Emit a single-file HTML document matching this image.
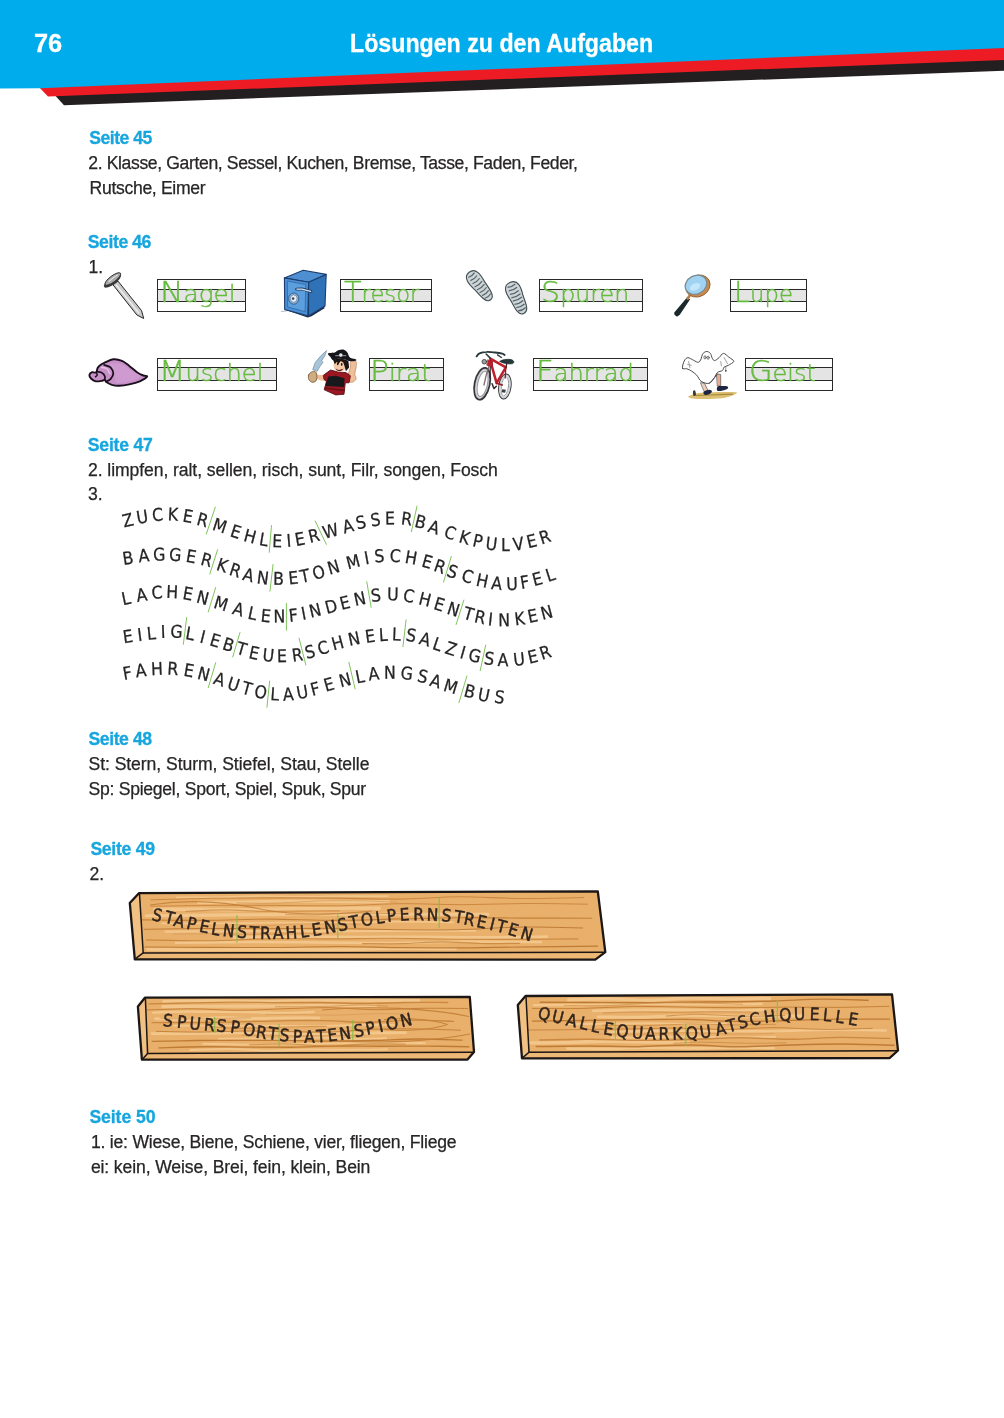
<!DOCTYPE html>
<html lang="de">
<head>
<meta charset="utf-8">
<title>Lösungen zu den Aufgaben</title>
<style>
html,body{margin:0;padding:0;background:#fff}
body{width:1004px;height:1418px;position:relative;overflow:hidden;font-family:"Liberation Sans",sans-serif;color:#272526}
main{position:absolute;left:0;top:0;width:1004px;height:1418px;will-change:transform}
.abs{position:absolute;display:block;overflow:visible}
.t,.h{position:absolute;margin:0;font-size:17.6px;line-height:20px;white-space:nowrap;font-weight:400;-webkit-text-stroke:.25px #272526}
.h{font-weight:700;color:#17a6de;-webkit-text-stroke:.3px #17a6de}
.pg,.ttl{position:absolute;margin:0;color:#fff;-webkit-text-stroke:.3px #fff;font-weight:700;font-size:25.6px;line-height:30px;white-space:nowrap;transform-origin:0 50%}
.pg{left:34.3px;top:28px;transform:scaleX(.99)}
.ttl{left:350.4px;top:28px;transform:scaleX(.906)}
.wb{position:absolute;box-sizing:border-box;height:33px;border:1px solid #2a2829;background:linear-gradient(#fff 0,#fff 9px,#2a2829 9px,#2a2829 10px,#e4e4e4 10px,#e4e4e4 21px,#2a2829 21px,#2a2829 22px,#fff 22px)}
.wb.r2{background:linear-gradient(#fff 0,#fff 8px,#2a2829 8px,#2a2829 9px,#e4e4e4 9px,#e4e4e4 21px,#2a2829 21px,#2a2829 22px,#fff 22px)}
.wb span{position:absolute;left:5px;top:-7.6px;font-family:"DejaVu Sans Light","DejaVu Sans","Liberation Sans",sans-serif;font-weight:200;font-size:23px;line-height:40px;color:#66bb40;-webkit-text-stroke:.4px #66bb40;white-space:nowrap;transform-origin:0 50%}
.wb span::first-letter{font-size:29.2px}
.wave text{font-family:"DejaVu Sans Condensed","DejaVu Sans","Liberation Sans",sans-serif;font-stretch:condensed;font-size:17.6px;fill:#262425;stroke:#262425;stroke-width:.25px}
.wave line{stroke:#7fc55c;stroke-width:1}
.plk text{font-family:"DejaVu Sans Condensed","DejaVu Sans","Liberation Sans",sans-serif;font-stretch:condensed;font-size:17.2px;fill:#31251e;stroke:#31251e;stroke-width:.45px}
</style>
</head>
<body>
<main>
<svg class="abs" style="left:0;top:0" width="1004" height="120" viewBox="0 0 1004 120" aria-hidden="true">
<polygon points="52,92 1004,55 1004,70.8 64,105.2" fill="#231f20"/>
<polygon points="36,84 1004,44 1004,59.9 48,96.6" fill="#ed1c24"/>
<polygon points="0,0 1004,0 1004,47.9 40.5,88.3 0,88.6" fill="#00acec"/>
</svg>
<div class="pg">76</div>
<h1 class="ttl">Lösungen zu den Aufgaben</h1>
<h2 class="h" style="left:89.3px;top:128.0px;letter-spacing:-0.487px">Seite 45</h2>
<p class="t" style="left:88.3px;top:153.0px;letter-spacing:-0.377px">2. Klasse, Garten, Sessel, Kuchen, Bremse, Tasse, Faden, Feder,</p>
<p class="t" style="left:89.6px;top:178.0px;letter-spacing:-0.328px">Rutsche, Eimer</p>
<h2 class="h" style="left:87.8px;top:232.0px;letter-spacing:-0.416px">Seite 46</h2>
<p class="t" style="left:88.5px;top:257.0px;letter-spacing:0.000px">1.</p>
<svg class="abs" style="left:80px;top:262px" width="670" height="146" viewBox="80 262 670 146" aria-hidden="true">
<g id="nagel">
<path d="M112.9 284.7L118.0 281.1L141.6 310.7L143.7 318.5L136.8 314.9Z" fill="#c9c9c9" stroke="#262626" stroke-width="1" stroke-linejoin="round"/>
<path d="M115.9 284.7L139.2 313.4" stroke="#f2f2f2" stroke-width="1.3" fill="none"/>
<ellipse cx="112.5" cy="280.8" rx="10.4" ry="3.7" transform="rotate(-37 112.5 280.8)" fill="#3a3a3a"/>
<ellipse cx="112.8" cy="279.0" rx="9.6" ry="3.1" transform="rotate(-37 112.8 279.0)" fill="#a9a9a9" stroke="#2a2a2a" stroke-width=".9"/>
<path d="M108.7 281.7C109.4 281.1 111.4 279.3 112.9 278.1C114.4 277.0 116.9 275.4 117.7 274.9" stroke="#e6e6e6" stroke-width="1.1" fill="none"/>
</g>
<g id="tresor" stroke-linejoin="round">
<path d="M279.0 311.4L288.6 311.1L307.7 317.4L311.5 316.2L324.9 307.9L323.0 306.0Z" fill="#1b2a45"/>
<path d="M284.4 277.9L303.2 270.3L326.2 274.4L308.6 282.3Z" fill="#4d8fd0" stroke="#1b3f70" stroke-width="1.1"/>
<path d="M308.6 282.3L326.2 274.4L325.0 306.0L308.5 315.9Z" fill="#2f72b7" stroke="#1b3f70" stroke-width="1.1"/>
<path d="M284.4 277.9L308.6 282.3L307.8 315.9L284.7 309.5Z" fill="#4a8ed3" stroke="#1b3f70" stroke-width="1.1"/>
<path d="M287.3 281.1L305.8 284.6L305.1 311.7L287.6 306.9Z" fill="#5b9fdf" stroke="#2c5f9f" stroke-width=".7"/>
<ellipse cx="293.7" cy="298.6" rx="5.1" ry="5.6" fill="#8fb0d0" stroke="#2a4f80" stroke-width=".8"/>
<ellipse cx="293.7" cy="298.6" rx="3.3" ry="3.7" fill="#e9eef4" stroke="#5a7595" stroke-width=".6"/>
<circle cx="293.1" cy="298.6" r="1.3" fill="#3a4a60"/>
<path d="M296.5 289.1L302.0 288.8L310.9 291.4" stroke="#1f3d66" stroke-width="2.8" stroke-linecap="round" fill="none"/>
<path d="M296.9 289.1L302.0 289.1L310.6 291.4" stroke="#dbe5f0" stroke-width="1.3" stroke-linecap="round" fill="none"/>
</g>
<g id="spuren"><g transform="translate(479.9 286.0) rotate(52)">
<path d="M-17.5 0C-17.5 -8.4 -7.9 -7.6 0 -6.3C9.6 -5.7 17.5 -5.4 17.5 0C17.5 5.4 9.6 5.7 0 6.3C-7.9 7.6 -17.5 8.4 -17.5 0Z" fill="#cdd4d7" stroke="#414e52" stroke-width="1.1"/>
<path d="M-13.9 -4.0Q-12.4 0 -13.9 4.0" stroke="#566468" stroke-width="1.2" fill="none"/>
<path d="M-10.1 -4.2Q-8.6 0 -10.1 4.2" stroke="#566468" stroke-width="1.2" fill="none"/>
<path d="M-6.3 -4.5Q-4.8 0 -6.3 4.5" stroke="#566468" stroke-width="1.2" fill="none"/>
<path d="M-2.5 -4.8Q-1.0 0 -2.5 4.8" stroke="#566468" stroke-width="1.2" fill="none"/>
<path d="M1.3 -4.8Q2.8 0 1.3 4.8" stroke="#566468" stroke-width="1.2" fill="none"/>
<path d="M5.1 -4.5Q6.6 0 5.1 4.5" stroke="#566468" stroke-width="1.2" fill="none"/>
<path d="M8.9 -4.2Q10.4 0 8.9 4.2" stroke="#566468" stroke-width="1.2" fill="none"/>
<path d="M12.7 -4.0Q14.2 0 12.7 4.0" stroke="#566468" stroke-width="1.2" fill="none"/>
</g><g transform="translate(516.9 298.0) rotate(66)">
<path d="M-17.0 0C-17.0 -8.9 -7.7 -8.1 0 -6.6C9.4 -6.0 17.0 -5.8 17.0 0C17.0 5.8 9.4 6.0 0 6.6C-7.7 8.1 -17.0 8.9 -17.0 0Z" fill="#cdd4d7" stroke="#414e52" stroke-width="1.1"/>
<path d="M-13.5 -4.2Q-12.0 0 -13.5 4.2" stroke="#566468" stroke-width="1.2" fill="none"/>
<path d="M-9.8 -4.5Q-8.3 0 -9.8 4.5" stroke="#566468" stroke-width="1.2" fill="none"/>
<path d="M-6.1 -4.8Q-4.6 0 -6.1 4.8" stroke="#566468" stroke-width="1.2" fill="none"/>
<path d="M-2.4 -5.0Q-0.9 0 -2.4 5.0" stroke="#566468" stroke-width="1.2" fill="none"/>
<path d="M1.2 -5.0Q2.7 0 1.2 5.0" stroke="#566468" stroke-width="1.2" fill="none"/>
<path d="M4.9 -4.8Q6.4 0 4.9 4.8" stroke="#566468" stroke-width="1.2" fill="none"/>
<path d="M8.6 -4.5Q10.1 0 8.6 4.5" stroke="#566468" stroke-width="1.2" fill="none"/>
<path d="M12.3 -4.2Q13.8 0 12.3 4.2" stroke="#566468" stroke-width="1.2" fill="none"/>
</g></g>
<g id="lupe">
<path d="M687.4 297.9L689.3 299.4L679.1 314.6L677.0 315.9L675.1 314.6L674.8 312.8Z" fill="#1b282c" stroke="#1b282c" stroke-width="1.2" stroke-linejoin="round"/>
<path d="M689.7 295.5L687.0 299.4" stroke="#b9793f" stroke-width="2.6" fill="none"/>
<ellipse cx="697.4" cy="286.4" rx="12.6" ry="10.6" transform="rotate(-28 696.9 285.2)" fill="#c98a4c" stroke="#8b5a2b" stroke-width=".8"/>
<ellipse cx="696.3" cy="284.4" rx="11.2" ry="9.2" transform="rotate(-28 696.9 285.2)" fill="#9fd3f1" stroke="#7c8a8e" stroke-width="1.2"/>
<ellipse cx="694.5" cy="285.8" rx="5.5" ry="3.4" transform="rotate(-28 696.9 285.2)" fill="#c4e6fa"/>
</g>
<g id="muschel" stroke-linejoin="round" stroke-linecap="round">
<path d="M104.2 362.8C106.4 361.9 110.3 359.6 113.3 359.3C116.3 359.0 119.3 359.8 122.0 360.9C124.7 362.0 126.8 364.0 129.3 365.9C131.8 367.8 134.7 370.6 137.0 372.2C139.3 373.8 141.6 374.8 143.3 375.5C145.0 376.2 147.7 375.6 147.1 376.5C146.5 377.5 142.8 379.9 139.8 381.3C136.8 382.6 132.8 383.6 129.3 384.4C125.8 385.2 121.8 385.7 118.9 385.8C116.0 385.9 114.0 385.5 111.9 384.9C109.8 384.2 107.5 382.8 106.3 382.0C105.2 381.1 105.7 380.0 104.9 379.9C104.1 379.7 102.9 380.7 101.4 380.9C99.9 381.1 97.6 381.7 95.9 381.3C94.1 380.9 92.0 379.5 91.0 378.5C89.9 377.4 89.3 376.0 89.4 375.0C89.6 374.0 90.5 372.8 91.7 372.3C92.8 371.9 95.2 373.1 96.2 372.3C97.2 371.6 96.9 369.3 97.6 368.0C98.3 366.8 99.3 365.7 100.4 364.9C101.5 364.0 102.1 363.7 104.2 362.8Z" fill="#c791c8" stroke="#1c0f1d" stroke-width="1.9"/>
<path d="M107.0 365.2C108.1 363.5 116.4 363.0 120.3 363.8C124.1 364.6 126.8 368.0 130.0 370.1C133.3 372.2 139.9 374.5 139.8 376.4C139.7 378.2 133.2 380.2 129.3 381.3C125.5 382.3 119.3 383.8 116.8 382.7C114.2 381.5 115.6 377.2 114.0 374.3C112.4 371.4 106.0 367.0 107.0 365.2Z" fill="#cf9bd0" opacity=".9"/>
<path d="M104.2 364.9C105.3 365.3 109.0 365.9 110.5 367.3C112.0 368.8 113.3 371.6 113.3 373.6C113.3 375.6 111.7 377.8 110.5 379.2C109.3 380.5 107.0 381.2 106.3 381.6" fill="none" stroke="#1c0f1d" stroke-width="1.8"/>
<path d="M97.6 371.8C98.4 372.0 100.9 372.1 102.1 372.9C103.4 373.6 104.5 375.2 104.9 376.4C105.3 377.5 104.6 379.3 104.6 379.9" fill="none" stroke="#1c0f1d" stroke-width="1.7"/>
<path d="M96.2 372.5C96.4 373.0 97.4 374.3 97.2 375.0C97.1 375.7 95.8 376.4 95.5 376.7" fill="none" stroke="#1c0f1d" stroke-width="1.5"/>
<path d="M101.4 367.3C102.4 367.5 105.6 367.7 107.0 368.7C108.4 369.8 109.3 372.8 109.8 373.6" fill="none" stroke="#e4c2e4" stroke-width="1.4"/>
</g>
<g id="pirat" stroke-linejoin="round" stroke-linecap="round">
<path d="M326.3 350.8L320.4 356.3L315.3 362.4L312.7 369.7L317.2 371.3L319.8 366.5L323.1 362.3L321.5 361.0L324.5 356.3Z" fill="#a8c4d8" stroke="#6d8aa0" stroke-width=".7"/>
<path d="M325.5 375.1L319.1 375.1L316.3 374.2L315.9 378.3L319.8 380.2L325.5 380.9Z" fill="#f0bf9a"/>
<path d="M308.6 375.1C309.0 373.9 310.3 372.5 311.5 372.0C312.6 371.4 314.7 371.2 315.6 372.0C316.5 372.7 316.8 374.9 316.9 376.4C316.9 377.9 316.7 379.9 315.9 380.9C315.1 381.8 313.3 382.4 312.1 382.2C310.9 381.9 309.5 380.8 308.9 379.6C308.3 378.4 308.2 376.4 308.6 375.1Z" fill="#cfad80" stroke="#7a5a3a" stroke-width=".9"/>
<path d="M348.4 373.9C348.7 371.6 350.0 369.4 350.4 367.5C350.7 365.6 349.9 363.6 350.4 362.4C350.8 361.2 351.9 360.3 352.9 360.2C353.9 360.1 355.6 360.5 356.1 361.8C356.6 363.0 356.3 365.5 356.1 367.5C355.9 369.5 354.8 372.0 354.8 373.9C354.8 375.8 356.5 377.6 356.1 379.0C355.7 380.3 353.4 381.8 352.3 382.2C351.1 382.5 349.7 382.3 349.1 380.9C348.4 379.5 348.2 376.1 348.4 373.9Z" fill="#f0bf9a" stroke="#b9835e" stroke-width=".7"/>
<path d="M323.6 375.1L330.6 370.0L338.2 372.0L345.9 372.6L350.4 375.8L349.1 382.8L345.3 382.8L344.0 394.3L335.7 394.9L324.2 389.8L326.4 381.5L324.2 379.6Z" fill="#9b1722" stroke="#4a0a10" stroke-width=".8"/>
<path d="M328.4 376.4L335.7 375.8L344.6 378.3L344.0 386.9L325.5 386.0L326.8 380.9Z" fill="#17191d"/>
<path d="M325.2 388.2L344.0 390.4" stroke="#6d0f17" stroke-width="1.6" fill="none"/>
<ellipse cx="339.8" cy="365.6" rx="6.3" ry="6.2" fill="#f4cba8"/>
<path d="M335.7 368.4C335.9 368.3 337.6 370.0 338.9 370.0C340.2 370.1 343.0 368.6 343.3 368.8C343.7 368.9 341.7 370.7 340.8 371.0C339.8 371.3 338.5 371.1 337.6 370.7C336.8 370.3 335.5 368.6 335.7 368.4Z" fill="#5a1d1d"/>
<ellipse cx="337.7" cy="364.0" rx=".8" ry="1.3" fill="#1d1512"/>
<ellipse cx="341.7" cy="364.4" rx=".8" ry="1.3" fill="#1d1512"/>
<path d="M333.1 359.8L338.2 358.6L344.6 359.2L348.4 361.1L349.1 367.5L345.9 371.3L344.6 366.2L343.3 362.4L340.8 361.1L338.2 364.3L337.0 361.8L334.7 364.3Z" fill="#1d1512"/>
<path d="M328.0 353.5C328.7 352.7 333.0 353.0 334.7 352.5C336.4 352.0 336.8 350.8 338.2 350.3C339.7 349.8 341.9 349.3 343.3 349.6C344.8 350.0 346.0 350.9 347.2 352.2C348.3 353.5 348.5 356.4 350.0 357.6C351.5 358.8 355.3 358.9 356.1 359.5C356.9 360.1 356.0 360.9 354.8 361.1C353.6 361.4 350.8 361.4 349.1 361.1C347.4 360.8 346.4 359.6 344.6 359.2C342.8 358.8 340.2 358.5 338.2 358.7C336.3 358.9 334.4 360.4 333.1 360.2C331.9 359.9 331.4 358.4 330.6 357.3C329.7 356.2 327.4 354.3 328.0 353.5Z" fill="#15161b"/>
<circle cx="340.8" cy="355.1" r="1.8" fill="#e9e9ee"/>
<path d="M335.7 355.7L345.9 355.7" stroke="#cfd0d8" stroke-width=".7" fill="none"/>
</g>
<g id="fahrrad" fill="none" stroke-linecap="round" stroke-linejoin="round">
<ellipse cx="504.9" cy="386.5" rx="5.9" ry="12.4" transform="rotate(8 504.9 386.5)" stroke="#34343a" stroke-width="1.4"/>
<ellipse cx="504.9" cy="386.5" rx="3.6" ry="9.6" transform="rotate(8 504.9 386.5)" stroke="#8f9498" stroke-width=".9"/>
<path d="M502.3 389.2L505.8 389.8L505.2 392.8L501.7 392.2Z" fill="#3a3d42" stroke="none"/>
<ellipse cx="482.2" cy="383.8" rx="6.6" ry="15.2" transform="rotate(12 482.2 383.8)" stroke="#c3c6c9" stroke-width="2.2"/>
<ellipse cx="504.9" cy="386.5" rx="4.9" ry="11.2" transform="rotate(8 504.9 386.5)" stroke="#cfd1d4" stroke-width="1.6"/>
<ellipse cx="482.2" cy="383.8" rx="7.6" ry="16.2" transform="rotate(12 482.2 383.8)" stroke="#34343a" stroke-width="1.7"/>
<ellipse cx="482.6" cy="383.8" rx="5" ry="13" transform="rotate(12 482.2 383.8)" stroke="#9a9ea3" stroke-width="1.2"/>
<path d="M489.1 365.9L486.1 375.5L484.0 385.0" stroke="#8a6a78" stroke-width="1.3"/>
<path d="M490.3 367.1L490.0 377.9" stroke="#2c2c30" stroke-width="1.2"/>
<path d="M490.3 358.7L505.8 367.4L496.6 383.2L492.1 367.1L490.3 358.7Z" stroke="#bd1f2b" stroke-width="2.5"/>
<path d="M487.9 359.9L492.7 361.7L492.1 367.1L487.0 365.3Z" fill="#bd1f2b" stroke="#8d1520" stroke-width=".6"/>
<path d="M496.6 383.2L502.3 385.0" stroke="#9a1a24" stroke-width="1.6"/>
<path d="M505.8 367.4L505.2 377.9" stroke="#7d2730" stroke-width="1.3"/>
<path d="M492.1 383.8L493.9 388.6L496.3 386.2" stroke="#3b2a2e" stroke-width="1.5"/>
<circle cx="484.3" cy="361.7" r="2.3" fill="#9aa0a0" stroke="#3a3a3a" stroke-width=".8"/>
<path d="M476.6 356.3C477.1 355.8 477.8 354.1 479.5 353.4C481.2 352.6 484.1 352.0 486.7 351.9C489.3 351.7 492.5 352.2 495.1 352.5C497.7 352.8 500.7 353.3 502.3 353.7C503.8 354.1 504.2 354.7 504.6 354.9" stroke="#27363a" stroke-width="1.9"/>
<path d="M486.1 354.0L490.3 358.1" stroke="#27363a" stroke-width="1.5"/>
<path d="M497.5 354.9L501.4 357.5" stroke="#27363a" stroke-width="1.3"/>
<path d="M499.9 361.4C499.7 360.8 502.8 359.9 504.6 359.6C506.5 359.3 509.7 359.2 511.2 359.6C512.8 360.0 513.8 361.3 513.9 362.0C514.0 362.7 513.2 363.6 511.8 363.8C510.5 364.1 507.8 363.9 505.8 363.5C503.8 363.1 500.1 362.1 499.9 361.4Z" fill="#26383c" stroke="#1a2326" stroke-width=".6"/>
<path d="M506.7 363.5L506.1 367.1" stroke="#3a2a2e" stroke-width="1.4"/>
</g>
<g id="geist" stroke-linejoin="round" stroke-linecap="round">
<path d="M690.3 395.5C692.3 394.8 693.9 393.4 701.1 392.8C708.3 392.2 728.0 391.9 733.6 392.1C739.2 392.4 736.7 393.5 734.6 394.5C732.6 395.5 727.8 397.5 721.4 398.2C715.0 399.0 701.8 399.1 696.4 398.9C690.9 398.7 689.6 397.8 688.6 397.2C687.6 396.7 688.2 396.3 690.3 395.5Z" fill="#dcbf72"/>
<path d="M696.4 395.5L732.3 394.2" stroke="#a88a3c" stroke-width="1.2" fill="none"/>
<path d="M693.0 391.5C693.2 390.6 694.5 389.9 695.0 390.4C695.5 391.0 696.2 393.9 696.0 394.8C695.8 395.7 694.2 396.4 693.6 395.9C693.1 395.3 692.7 392.4 693.0 391.5Z" fill="#3b3b3b"/>
<path d="M700.8 382.7L704.5 383.3L707.9 390.4L704.5 391.5Z" fill="#f0cdb8" stroke="#555" stroke-width=".7"/>
<path d="M716.7 373.8L720.7 374.5L720.7 386.0L717.7 386.0Z" fill="#e9ab93" stroke="#555" stroke-width=".7"/>
<path d="M703.8 391.8C704.6 390.9 707.9 389.8 709.2 389.8C710.6 389.7 711.9 390.7 711.9 391.5C711.9 392.2 710.5 393.6 709.2 394.2C708.0 394.7 705.4 395.2 704.5 394.8C703.6 394.5 703.0 392.6 703.8 391.8Z" fill="#1e2542"/>
<path d="M717.4 386.7C718.0 385.9 719.7 386.1 721.4 386.0C723.1 386.0 726.5 385.9 727.5 386.4C728.5 386.8 728.3 388.1 727.5 388.7C726.7 389.4 724.5 390.1 722.8 390.4C721.1 390.8 718.3 391.4 717.4 390.8C716.5 390.2 716.7 387.5 717.4 386.7Z" fill="#1e2542"/>
<path d="M682.5 368.4C682.0 367.1 683.3 362.8 684.2 361.0C685.1 359.2 686.3 357.8 687.9 357.7C689.5 357.6 691.9 359.5 693.6 360.3C695.4 361.1 697.1 362.6 698.4 362.3C699.6 362.1 700.4 360.3 701.1 358.9C701.8 357.6 701.6 355.4 702.5 354.2C703.3 353.0 704.9 351.7 706.2 351.5C707.5 351.3 709.2 352.0 710.2 353.2C711.3 354.3 711.5 357.0 712.3 358.3C713.0 359.5 713.5 360.7 714.7 360.6C715.8 360.5 717.6 358.8 719.1 357.6C720.5 356.4 721.8 353.4 723.5 353.4C725.1 353.3 727.2 355.9 728.9 357.2C730.6 358.6 733.9 360.0 733.8 361.3C733.6 362.7 729.8 364.4 728.2 365.4C726.6 366.3 725.1 366.2 724.1 367.1C723.2 367.9 723.6 369.6 722.4 370.5C721.3 371.4 718.7 371.4 717.4 372.5C716.1 373.6 716.0 375.4 714.7 377.2C713.3 379.0 711.5 382.7 709.2 383.3C707.0 384.0 703.2 382.7 701.1 381.3C699.0 379.9 698.3 376.9 696.7 375.2C695.1 373.5 693.3 372.2 691.6 371.1C690.0 370.1 688.4 369.2 686.9 368.8C685.3 368.3 682.9 369.7 682.5 368.4Z" fill="#fefefe" stroke="#4a4a4f" stroke-width="1"/>
<ellipse cx="705.0" cy="357.4" rx="1.1" ry="1.6" fill="none" stroke="#3e3e44" stroke-width=".7"/>
<ellipse cx="708.1" cy="357.7" rx="1.1" ry="1.6" fill="none" stroke="#3e3e44" stroke-width=".7"/>
<path d="M688.6 361.6L689.9 367.7" stroke="#8a8a90" stroke-width=".8" fill="none"/>
<path d="M687.6 364.4L691.3 365.4" stroke="#8a8a90" stroke-width=".8" fill="none"/>
<path d="M724.1 357.6L727.5 363.7" stroke="#8a8a90" stroke-width=".8" fill="none"/>
<path d="M720.7 361.6L721.4 365.7" stroke="#8a8a90" stroke-width=".8" fill="none"/>
<path d="M709.2 383.3L712.6 379.9L717.4 374.5" stroke="#4a4a4f" stroke-width=".9" fill="none"/>
<circle cx="725.8" cy="370.8" r=".9" fill="#333"/>
<path d="M725.8 367.1L725.8 370.5" stroke="#555" stroke-width=".6" fill="none"/>
</g>
</svg>
<div class="wb" style="left:157px;top:279px;width:89px"><span style="left:1.6px;transform:scaleX(1.077)">Nagel</span></div>
<div class="wb" style="left:340px;top:279px;width:92px"><span style="left:2.7px;transform:scaleX(0.986)">Tresor</span></div>
<div class="wb" style="left:539px;top:279px;width:104px"><span style="left:1.1px;transform:scaleX(1.033)">Spuren</span></div>
<div class="wb" style="left:730px;top:279px;width:77px"><span style="left:3.2px;transform:scaleX(0.988)">Lupe</span></div>
<div class="wb r2" style="left:157px;top:358px;width:120px"><span style="left:0.8px;transform:scaleX(1.049)">Muschel</span></div>
<div class="wb r2" style="left:369px;top:358px;width:75px"><span style="left:0.0px;transform:scaleX(1.079)">Pirat</span></div>
<div class="wb r2" style="left:533px;top:358px;width:115px"><span style="left:2.0px;transform:scaleX(1.052)">Fahrrad</span></div>
<div class="wb r2" style="left:745px;top:358px;width:88px"><span style="left:2.7px;transform:scaleX(1.043)">Geist</span></div>
<h2 class="h" style="left:87.8px;top:435.0px;letter-spacing:-0.201px">Seite 47</h2>
<p class="t" style="left:88.0px;top:460.0px;letter-spacing:-0.084px">2. limpfen, ralt, sellen, risch, sunt, Filr, songen, Fosch</p>
<p class="t" style="left:88.0px;top:484.0px;letter-spacing:0.000px">3.</p>
<svg class="abs wave" style="left:110px;top:500px" width="460" height="215" viewBox="110 500 460 215">
<line x1="215.4" y1="506.9" x2="206.2" y2="534.4"/>
<line x1="271.5" y1="525.2" x2="269.2" y2="552.7"/>
<line x1="315.0" y1="520.6" x2="326.5" y2="544.7"/>
<line x1="417.1" y1="505.7" x2="411.3" y2="532.1"/>
<line x1="217.7" y1="549.3" x2="209.7" y2="574.5"/>
<line x1="273.1" y1="564.1" x2="269.9" y2="591.6"/>
<line x1="451.4" y1="556.1" x2="443.4" y2="582.5"/>
<line x1="215.8" y1="587.1" x2="208.1" y2="612.3"/>
<line x1="286.4" y1="603.1" x2="286.4" y2="630.6"/>
<line x1="366.7" y1="581.3" x2="371.2" y2="607.7"/>
<line x1="464.0" y1="599.7" x2="456.0" y2="624.9"/>
<line x1="186.7" y1="617.2" x2="183.3" y2="644.7"/>
<line x1="240.1" y1="632.1" x2="232.6" y2="657.3"/>
<line x1="299.0" y1="637.8" x2="305.9" y2="665.3"/>
<line x1="406.1" y1="619.5" x2="402.9" y2="647.0"/>
<line x1="485.8" y1="644.7" x2="480.1" y2="671.0"/>
<line x1="215.8" y1="662.3" x2="208.1" y2="688.2"/>
<line x1="269.7" y1="680.6" x2="266.9" y2="707.7"/>
<line x1="348.8" y1="661.9" x2="355.2" y2="689.3"/>
<line x1="467.0" y1="675.6" x2="458.8" y2="703.1"/>
<text x="124.1 137.4 152.6 167.5 181.9 195.8 211.5 229.3 242.8 258.6 272.0 286.9 295.9 310.0 324.6 344.3 357.3 371.2 385.1 400.4 413.7 427.1 443.1 457.9 471.8 485.0 500.9 513.8 528.2 541.6" y="527.6 524.1 521.2 520.3 521.4 524.6 529.6 535.9 540.8 545.1 547.1 547.0 545.9 542.9 538.9 533.6 529.5 526.4 524.4 524.2 526.6 531.4 537.0 541.9 546.0 549.3 551.2 550.8 548.2 544.4" rotate="-13.1 -9.3 -4.0 2.9 9.8 15.1 17.8 17.7 14.8 9.2 2.2 -4.6 -10.0 -13.4 -14.9 -14.6 -12.2 -7.4 -0.6 7.3 14.2 17.9 18.0 15.9 12.4 7.0 -0.0 -7.5 -13.4 -17.5">ZUCKERMEHLEIERWASSERBACKPULVER</text>
<text x="123.5 139.1 153.3 168.7 185.3 199.7 215.4 228.3 241.8 256.3 272.9 289.0 301.2 314.2 329.5 347.9 365.6 374.8 389.5 404.3 420.8 432.7 445.8 460.4 475.2 490.8 506.6 521.3 534.1 548.1" y="565.1 562.3 560.8 560.4 561.7 564.6 569.4 574.6 579.7 583.3 584.7 584.5 583.0 580.0 574.8 569.4 564.5 562.6 561.7 562.8 566.2 570.5 575.8 580.8 585.5 589.1 590.2 588.9 586.2 582.0" rotate="-8.8 -5.6 -1.4 3.9 9.6 14.8 18.1 17.9 13.8 7.3 0.5 -5.8 -11.3 -15.1 -16.1 -14.5 -10.4 -4.3 2.9 9.9 15.8 19.1 19.0 16.4 11.8 5.3 -2.3 -9.4 -14.4 -17.6">BAGGERKRANBETONMISCHERSCHAUFEL</text>
<text x="123.0 137.3 152.0 166.1 181.9 195.4 212.7 231.4 246.9 260.2 273.6 289.5 302.5 310.7 326.8 341.6 355.3 371.5 387.1 402.6 417.8 432.8 446.1 462.2 473.4 487.4 498.3 515.3 529.1 542.4" y="605.2 601.9 599.0 597.7 598.9 602.3 607.6 613.8 618.6 621.5 622.5 622.0 620.0 617.8 614.1 610.1 606.0 601.9 600.3 601.3 604.1 608.7 613.4 618.4 622.0 625.2 626.2 625.5 623.1 619.9" rotate="-11.8 -9.1 -4.4 2.5 9.7 14.8 16.8 15.7 11.9 5.9 -0.6 -6.4 -10.8 -13.3 -14.3 -14.2 -11.9 -6.4 1.1 8.4 13.9 17.0 17.5 15.9 12.1 6.3 -0.6 -7.0 -11.7 -14.8">LACHENMALENFINDENSUCHENTRINKEN</text>
<text x="123.8 138.3 147.5 161.1 169.9 184.8 199.0 208.8 221.6 235.3 248.1 262.1 276.9 292.8 306.4 319.5 333.4 349.6 366.0 379.2 391.7 405.3 418.2 431.5 443.9 458.9 467.4 483.4 497.5 513.9 529.2 542.1" y="643.2 641.2 639.9 638.0 637.3 638.9 642.2 645.0 648.9 653.6 657.9 660.8 662.2 661.7 659.1 655.3 650.5 646.0 643.0 641.2 640.2 640.6 643.7 648.7 652.9 657.7 660.5 664.0 666.0 666.0 663.7 660.0" rotate="-7.9 -7.5 -5.9 -2.1 3.8 9.8 14.1 16.5 17.2 15.9 12.1 6.1 -0.9 -7.8 -13.3 -15.8 -15.0 -11.9 -7.9 -3.3 2.5 9.6 15.7 18.3 17.9 15.7 12.2 7.3 0.9 -6.3 -12.8 -18.1">EILIGLIEBTEUERSCHNELLSALZIGSAUER</text>
<text x="123.9 136.3 151.3 167.1 183.0 196.5 212.4 226.2 240.7 253.4 270.1 283.2 297.8 312.2 325.7 340.7 356.7 368.9 384.1 399.9 416.4 428.8 442.6 462.9 477.0 493.7" y="679.9 677.3 675.2 674.6 675.7 678.6 683.6 688.6 693.3 697.1 700.1 700.8 699.3 695.9 691.7 687.4 683.4 680.6 678.7 678.7 681.2 685.4 690.4 696.0 700.0 702.6" rotate="-10.3 -7.0 -2.5 3.3 9.5 14.7 17.5 17.5 15.0 10.3 3.8 -3.7 -10.3 -14.4 -15.4 -14.0 -11.1 -6.5 -0.4 6.7 13.2 16.7 16.5 14.2 11.1 7.8">FAHRENAUTOLAUFENLANGSAMBUS</text>
</svg>
<h2 class="h" style="left:88.5px;top:729.0px;letter-spacing:-0.416px">Seite 48</h2>
<p class="t" style="left:88.5px;top:754.0px;letter-spacing:-0.068px">St: Stern, Sturm, Stiefel, Stau, Stelle</p>
<p class="t" style="left:88.5px;top:779.0px;letter-spacing:-0.273px">Sp: Spiegel, Sport, Spiel, Spuk, Spur</p>
<h2 class="h" style="left:90.4px;top:839.0px;letter-spacing:-0.273px">Seite 49</h2>
<p class="t" style="left:89.5px;top:864.0px;letter-spacing:0.000px">2.</p>
<svg class="abs plk" style="left:120px;top:880px" width="790" height="190" viewBox="120 880 790 190">
<g id="brett1">
<polygon points="129.8,903.0 138.9,893.2 597.8,891.3 605.3,952.2 595.3,959.6 134.8,959.4" fill="#e9b06b"/>
<polygon points="129.8,903.0 139.5,894.0 143.2,952.9 134.8,959.4" fill="#f1c083"/>
<polygon points="143.2,952.9 604.8,952.3 595.3,959.6 134.8,959.4" fill="#edb775"/>
<path d="M176.8 897.3C183.9 897.3 205.0 897.6 219.1 897.4C233.1 897.2 247.2 896.1 261.3 896.0C275.3 895.9 289.4 896.7 303.5 896.7C317.6 896.7 331.6 896.2 345.7 896.1C359.8 896.0 380.9 896.1 387.9 896.1" stroke="#f5cd95" stroke-width="1.7" fill="none" opacity=".8" stroke-linecap="round"/>
<path d="M198.3 902.5C204.6 902.5 223.6 902.4 236.3 902.2C249.0 902.0 261.7 901.5 274.4 901.3C287.1 901.1 299.8 901.1 312.5 901.1C325.2 901.2 337.9 901.5 350.6 901.6C363.3 901.7 382.3 901.6 388.7 901.5" stroke="#f5cd95" stroke-width="3.1" fill="none" opacity=".8" stroke-linecap="round"/>
<path d="M154.7 909.2C162.2 909.3 184.6 909.2 199.6 909.3C214.6 909.4 229.6 909.8 244.5 909.7C259.5 909.6 274.5 909.0 289.5 908.8C304.4 908.5 319.4 908.3 334.4 908.2C349.4 908.1 371.8 908.2 379.3 908.2" stroke="#f5cd95" stroke-width="3.4" fill="none" opacity=".8" stroke-linecap="round"/>
<path d="M146.2 915.8C157.6 915.7 191.8 915.3 214.5 915.1C237.3 914.9 260.1 914.6 282.9 914.5C305.6 914.3 328.4 914.2 351.2 914.1C374.0 914.1 396.7 914.2 419.5 914.2C442.3 914.3 476.4 914.3 487.8 914.3" stroke="#f5cd95" stroke-width="3.1" fill="none" opacity=".8" stroke-linecap="round"/>
<path d="M162.1 923.4C171.8 923.4 200.9 923.6 220.3 923.4C239.7 923.3 259.1 922.8 278.5 922.7C297.9 922.6 317.3 923.0 336.7 922.8C356.1 922.7 375.5 921.8 394.9 921.7C414.3 921.6 443.4 922.2 453.1 922.3" stroke="#f5cd95" stroke-width="1.7" fill="none" opacity=".8" stroke-linecap="round"/>
<path d="M165.6 931.6C175.9 931.6 206.8 931.4 227.5 931.3C248.1 931.2 268.7 930.9 289.4 930.9C310.0 930.9 330.6 931.3 351.3 931.3C371.9 931.2 392.5 930.9 413.2 930.8C433.8 930.7 464.7 930.7 475.0 930.7" stroke="#f5cd95" stroke-width="2.1" fill="none" opacity=".8" stroke-linecap="round"/>
<path d="M233.7 937.4C244.2 937.2 275.5 936.7 296.4 936.7C317.2 936.7 338.1 937.2 359.0 937.2C379.9 937.2 400.7 936.9 421.6 936.9C442.5 937.0 463.4 937.5 484.2 937.5C505.1 937.4 536.4 936.7 546.9 936.6" stroke="#f5cd95" stroke-width="2.9" fill="none" opacity=".8" stroke-linecap="round"/>
<path d="M175.8 942.8C187.9 942.7 224.4 942.0 248.8 941.9C273.1 941.8 297.5 942.2 321.8 942.4C346.2 942.5 370.5 943.0 394.9 942.9C419.2 942.7 443.6 941.7 467.9 941.5C492.2 941.4 528.8 942.0 540.9 942.1" stroke="#f5cd95" stroke-width="2.5" fill="none" opacity=".8" stroke-linecap="round"/>
<path d="M147.5 949.4C157.8 949.4 188.6 949.8 209.1 949.8C229.6 949.8 250.1 949.3 270.7 949.3C291.2 949.3 311.7 949.9 332.2 949.8C352.8 949.7 373.3 948.8 393.8 948.6C414.3 948.4 445.1 948.8 455.4 948.9" stroke="#f5cd95" stroke-width="2.9" fill="none" opacity=".8" stroke-linecap="round"/>
<path d="M150.8 899.8C161.1 899.6 192.0 898.5 212.6 898.2C233.2 897.9 253.8 898.0 274.5 897.9C295.1 897.9 315.7 897.9 336.3 898.1C356.9 898.3 377.5 899.3 398.2 899.1C418.8 898.9 439.4 896.9 460.0 896.8C480.6 896.8 501.2 898.4 521.8 898.5C542.5 898.6 573.4 897.7 583.7 897.5" stroke="#c6843c" stroke-width="1.1" fill="none" opacity=".9" stroke-linecap="round"/>
<path d="M150.9 906.3C161.3 906.2 192.5 905.5 213.3 905.4C234.0 905.2 254.8 905.3 275.6 905.4C296.4 905.4 317.2 906.2 338.0 905.9C358.8 905.6 379.6 903.9 400.4 903.7C421.1 903.5 441.9 904.7 462.7 904.7C483.5 904.6 504.3 903.6 525.1 903.5C545.9 903.4 577.1 904.1 587.5 904.2" stroke="#c6843c" stroke-width="1.0" fill="none" opacity=".9" stroke-linecap="round"/>
<path d="M142.2 919.9C152.9 920.0 185.0 920.5 206.4 920.4C227.8 920.2 249.2 919.1 270.6 919.1C292.0 919.1 313.4 920.5 334.8 920.4C356.2 920.4 377.6 919.4 399.0 918.9C420.4 918.5 441.8 917.8 463.2 917.7C484.6 917.5 506.0 918.0 527.4 918.1C548.9 918.2 581.0 918.2 591.7 918.2" stroke="#c07c34" stroke-width="1.1" fill="none" opacity=".9" stroke-linecap="round"/>
<path d="M144.2 929.3C154.7 929.2 186.0 928.6 206.9 928.5C227.7 928.4 248.6 928.7 269.5 928.7C290.4 928.7 311.3 928.2 332.1 928.3C353.0 928.5 373.9 929.5 394.8 929.7C415.6 929.9 436.5 930.2 457.4 929.7C478.3 929.3 499.2 927.4 520.0 927.1C540.9 926.8 572.2 927.8 582.7 928.0" stroke="#b97530" stroke-width="1.0" fill="none" opacity=".9" stroke-linecap="round"/>
<path d="M146.7 939.9C156.9 940.1 187.7 941.0 208.3 940.8C228.8 940.6 249.4 939.0 269.9 938.7C290.4 938.4 311.0 938.9 331.5 938.9C352.1 938.8 372.6 938.2 393.1 938.3C413.7 938.4 434.2 939.1 454.8 939.3C475.3 939.5 495.8 939.5 516.4 939.4C536.9 939.3 567.7 939.0 578.0 938.9" stroke="#c6843c" stroke-width="1.1" fill="none" opacity=".9" stroke-linecap="round"/>
<path d="M145.1 947.0C155.9 947.1 188.2 947.3 209.8 947.4C231.3 947.4 252.9 947.6 274.4 947.5C296.0 947.4 317.5 946.5 339.0 946.5C360.6 946.6 382.1 947.5 403.7 947.7C425.2 947.9 446.8 947.9 468.3 947.8C489.9 947.7 511.4 947.1 532.9 946.9C554.5 946.6 586.8 946.3 597.6 946.2" stroke="#b97530" stroke-width="1.2" fill="none" opacity=".9" stroke-linecap="round"/>
<path d="M236.9 902.9C243.6 903.0 263.6 903.5 276.9 903.2C290.2 902.9 303.6 901.3 316.9 900.9C330.2 900.5 343.5 900.6 356.9 900.7C370.2 900.9 390.2 901.9 396.9 902.1" stroke="#d19451" stroke-width="0.8" fill="none" opacity=".8" stroke-linecap="round"/>
<path d="M185.6 911.5C192.0 911.2 211.2 909.9 224.0 909.9C236.9 909.8 249.7 911.2 262.5 911.4C275.3 911.6 288.2 911.2 301.0 911.1C313.8 911.0 333.0 910.8 339.4 910.8" stroke="#cc8b44" stroke-width="1.2" fill="none" opacity=".8" stroke-linecap="round"/>
<path d="M285.4 914.6C290.5 914.6 305.9 915.1 316.1 914.9C326.4 914.6 336.6 913.3 346.9 913.1C357.1 912.8 367.4 913.1 377.6 913.3C387.8 913.5 403.2 913.9 408.3 914.1" stroke="#cc8b44" stroke-width="0.9" fill="none" opacity=".8" stroke-linecap="round"/>
<path d="M231.0 924.3C236.4 924.6 252.6 926.0 263.3 926.0C274.1 925.9 284.8 924.3 295.6 924.0C306.4 923.6 317.1 923.9 327.9 923.9C338.6 923.9 354.8 923.9 360.2 923.9" stroke="#d19451" stroke-width="0.7" fill="none" opacity=".8" stroke-linecap="round"/>
<path d="M173.8 934.0C180.3 933.9 199.6 933.7 212.5 933.8C225.3 933.9 238.2 934.5 251.1 934.4C264.0 934.4 276.9 933.9 289.8 933.7C302.6 933.6 322.0 933.6 328.4 933.5" stroke="#d19451" stroke-width="0.8" fill="none" opacity=".8" stroke-linecap="round"/>
<path d="M362.6 943.6C369.1 943.6 388.7 944.0 401.8 943.7C414.9 943.4 428.0 941.8 441.1 941.8C454.1 941.7 467.2 943.2 480.3 943.5C493.4 943.8 513.0 943.3 519.6 943.3" stroke="#c6843c" stroke-width="1.2" fill="none" opacity=".8" stroke-linecap="round"/>
<path d="M150 905C185 899.5 225 901 262 909.5C300 916 340 914.5 372 911" stroke="#c27e36" stroke-width="1.1" fill="none" opacity=".85"/>
<path d="M139.5 894.0L143.2 952.9L604.8 952.3" fill="none" stroke="#1c1715" stroke-width="1.5" stroke-linejoin="round"/>
<path d="M143.2 952.9L135.8 958.4" fill="none" stroke="#1c1715" stroke-width="1.5"/>
<polygon points="129.8,903.0 138.9,893.2 597.8,891.3 605.3,952.2 595.3,959.6 134.8,959.4" fill="none" stroke="#1c1715" stroke-width="2.3" stroke-linejoin="round"/>
<line x1="237.0" y1="914.9" x2="237.0" y2="942.8" stroke="#7cc142" stroke-width="1.1" opacity=".9"/>
<line x1="337.8" y1="913.0" x2="337.8" y2="939.0" stroke="#7cc142" stroke-width="1.1" opacity=".9"/>
<line x1="439.2" y1="897.0" x2="439.2" y2="928.0" stroke="#7cc142" stroke-width="1.1" opacity=".9"/>
<text x="151.3 163.8 172.7 185.8 198.4 210.4 222.2 236.8 249.2 260.1 273.0 286.0 300.8 312.8 325.4 338.9 350.5 362.0 376.5 387.4 400.1 413.3 426.5 441.1 453.5 463.0 475.7 488.7 495.6 506.9 519.5" y="920.0 922.6 925.4 928.5 931.5 934.2 936.0 937.6 938.5 938.9 939.1 938.9 937.8 936.2 934.1 931.4 928.7 926.5 924.0 922.0 920.7 920.3 920.4 921.0 922.2 924.2 926.7 929.5 931.1 934.2 938.1" rotate="12.2 13.7 14.0 13.2 11.6 9.4 6.9 4.6 2.6 0.7 -1.4 -3.8 -6.6 -8.9 -10.6 -11.4 -11.1 -10.1 -8.6 -6.2 -3.0 0.1 2.7 5.6 8.8 11.1 12.3 13.5 14.9 16.3 17.3">STAPELNSTRAHLENSTOLPERNSTREITEN</text>
</g>
<g id="brett2">
<polygon points="137.9,1006.5 144.9,997.7 469.8,996.9 474.0,1052.0 467.5,1059.5 141.9,1059.7" fill="#e9b06b"/>
<polygon points="137.9,1006.5 145.4,998.4 147.6,1053.4 141.9,1059.7" fill="#f1c083"/>
<polygon points="147.6,1053.4 473.6,1052.3 467.5,1059.5 141.9,1059.7" fill="#edb775"/>
<path d="M163.9 1001.6C172.4 1001.5 197.9 1000.6 214.9 1000.6C231.8 1000.6 248.8 1001.7 265.8 1001.6C282.8 1001.5 299.8 1000.3 316.7 1000.1C333.7 999.9 350.7 1000.1 367.7 1000.2C384.7 1000.2 410.1 1000.4 418.6 1000.5" stroke="#f5cd95" stroke-width="3.4" fill="none" opacity=".8" stroke-linecap="round"/>
<path d="M162.7 1006.6C169.8 1006.5 191.2 1006.4 205.4 1006.3C219.6 1006.2 233.8 1006.2 248.0 1006.1C262.2 1006.1 276.4 1006.1 290.6 1006.0C304.9 1005.8 319.1 1005.3 333.3 1005.2C347.5 1005.1 368.8 1005.6 375.9 1005.6" stroke="#f5cd95" stroke-width="3.1" fill="none" opacity=".8" stroke-linecap="round"/>
<path d="M153.2 1012.7C158.6 1012.5 174.6 1011.7 185.3 1011.6C196.0 1011.4 206.7 1011.8 217.4 1011.9C228.1 1012.0 238.8 1011.9 249.5 1012.1C260.1 1012.2 270.8 1012.9 281.5 1012.9C292.2 1012.9 308.3 1012.1 313.6 1012.0" stroke="#f5cd95" stroke-width="2.3" fill="none" opacity=".8" stroke-linecap="round"/>
<path d="M155.5 1018.7C160.9 1018.9 177.3 1019.7 188.2 1019.6C199.1 1019.4 210.0 1017.7 220.9 1017.6C231.8 1017.4 242.7 1018.5 253.6 1018.5C264.5 1018.6 275.4 1018.0 286.3 1017.9C297.2 1017.8 313.6 1018.0 319.0 1018.0" stroke="#f5cd95" stroke-width="2.8" fill="none" opacity=".8" stroke-linecap="round"/>
<path d="M174.0 1025.8C181.3 1025.8 203.3 1025.6 218.0 1025.6C232.7 1025.6 247.3 1025.7 262.0 1025.7C276.7 1025.8 291.4 1026.1 306.0 1026.1C320.7 1026.0 335.4 1025.4 350.0 1025.2C364.7 1025.1 386.7 1025.0 394.0 1024.9" stroke="#f5cd95" stroke-width="1.9" fill="none" opacity=".8" stroke-linecap="round"/>
<path d="M152.0 1033.6C160.5 1033.5 185.8 1033.5 202.7 1033.4C219.6 1033.2 236.5 1032.5 253.4 1032.6C270.3 1032.7 287.1 1033.8 304.0 1033.9C320.9 1034.0 337.8 1033.2 354.7 1033.0C371.6 1032.7 396.9 1032.7 405.4 1032.6" stroke="#f5cd95" stroke-width="2.9" fill="none" opacity=".8" stroke-linecap="round"/>
<path d="M218.7 1038.8C224.3 1038.8 241.1 1038.3 252.2 1038.4C263.4 1038.5 274.5 1039.5 285.7 1039.3C296.9 1039.2 308.0 1037.8 319.2 1037.7C330.4 1037.7 341.5 1038.8 352.7 1038.9C363.8 1038.9 380.6 1038.3 386.2 1038.2" stroke="#f5cd95" stroke-width="1.8" fill="none" opacity=".8" stroke-linecap="round"/>
<path d="M203.4 1043.8C210.8 1044.0 233.0 1044.5 247.8 1044.6C262.6 1044.7 277.4 1044.4 292.1 1044.2C306.9 1044.0 321.7 1043.6 336.5 1043.4C351.3 1043.1 366.1 1042.7 380.8 1042.6C395.6 1042.6 417.8 1043.0 425.2 1043.1" stroke="#f5cd95" stroke-width="1.9" fill="none" opacity=".8" stroke-linecap="round"/>
<path d="M190.5 1050.0C197.1 1049.8 216.8 1048.9 229.9 1049.0C243.0 1049.0 256.2 1050.4 269.3 1050.5C282.4 1050.6 295.5 1049.7 308.6 1049.6C321.8 1049.4 334.9 1049.9 348.0 1049.8C361.1 1049.8 380.8 1049.4 387.4 1049.3" stroke="#f5cd95" stroke-width="2.0" fill="none" opacity=".8" stroke-linecap="round"/>
<path d="M148.8 1003.9C155.9 1003.7 177.3 1003.2 191.5 1002.9C205.7 1002.6 220.0 1002.1 234.2 1002.1C248.4 1002.1 262.7 1002.5 276.9 1002.6C291.1 1002.6 305.4 1002.4 319.6 1002.5C333.8 1002.7 348.1 1003.5 362.3 1003.5C376.5 1003.5 390.8 1002.7 405.0 1002.5C419.2 1002.3 440.6 1002.5 447.7 1002.5" stroke="#c6843c" stroke-width="1.3" fill="none" opacity=".9" stroke-linecap="round"/>
<path d="M147.4 1009.9C155.0 1009.8 177.9 1008.8 193.1 1008.8C208.4 1008.9 223.6 1010.4 238.9 1010.3C254.1 1010.3 269.3 1009.2 284.6 1008.7C299.8 1008.3 315.1 1007.5 330.3 1007.7C345.6 1007.9 360.8 1009.6 376.1 1009.7C391.3 1009.8 406.6 1008.5 421.8 1008.3C437.1 1008.1 459.9 1008.5 467.6 1008.5" stroke="#c07c34" stroke-width="1.0" fill="none" opacity=".9" stroke-linecap="round"/>
<path d="M152.0 1022.6C159.2 1022.6 180.8 1022.7 195.1 1022.6C209.5 1022.5 223.8 1022.2 238.2 1021.9C252.6 1021.6 266.9 1021.0 281.3 1020.8C295.6 1020.6 310.0 1020.3 324.4 1020.6C338.7 1020.8 353.1 1022.4 367.4 1022.4C381.8 1022.3 396.2 1020.3 410.5 1020.1C424.9 1020.0 446.4 1021.1 453.6 1021.3" stroke="#c6843c" stroke-width="1.3" fill="none" opacity=".9" stroke-linecap="round"/>
<path d="M156.7 1031.4C163.9 1031.5 185.6 1032.2 200.1 1032.1C214.5 1032.1 229.0 1031.1 243.5 1031.0C257.9 1030.9 272.4 1031.3 286.9 1031.5C301.3 1031.7 315.8 1032.5 330.3 1032.1C344.7 1031.8 359.2 1029.7 373.7 1029.2C388.1 1028.7 402.6 1028.7 417.1 1028.9C431.5 1029.1 453.2 1030.0 460.5 1030.2" stroke="#c07c34" stroke-width="1.0" fill="none" opacity=".9" stroke-linecap="round"/>
<path d="M152.1 1041.3C159.5 1041.2 181.7 1040.7 196.4 1040.5C211.2 1040.4 225.9 1040.5 240.7 1040.4C255.5 1040.4 270.2 1040.3 285.0 1040.4C299.7 1040.5 314.5 1041.1 329.3 1041.1C344.0 1041.1 358.8 1040.8 373.6 1040.5C388.3 1040.1 403.1 1039.0 417.8 1039.0C432.6 1038.9 454.7 1040.0 462.1 1040.2" stroke="#b97530" stroke-width="1.3" fill="none" opacity=".9" stroke-linecap="round"/>
<path d="M158.9 1047.9C166.3 1047.7 188.4 1046.9 203.2 1046.7C217.9 1046.6 232.7 1047.0 247.4 1047.1C262.2 1047.1 277.0 1047.3 291.7 1047.2C306.5 1047.0 321.2 1046.3 336.0 1046.1C350.7 1045.9 365.5 1046.2 380.3 1046.2C395.0 1046.2 409.8 1046.0 424.5 1046.1C439.3 1046.2 461.4 1046.7 468.8 1046.8" stroke="#b97530" stroke-width="1.4" fill="none" opacity=".9" stroke-linecap="round"/>
<path d="M275.4 1006.6C280.1 1006.7 294.1 1006.9 303.4 1006.8C312.8 1006.7 322.1 1006.5 331.4 1006.2C340.8 1005.9 350.1 1004.9 359.5 1004.9C368.8 1004.9 382.8 1005.9 387.5 1006.1" stroke="#cc8b44" stroke-width="0.9" fill="none" opacity=".8" stroke-linecap="round"/>
<path d="M265.7 1014.4C271.5 1014.4 288.9 1014.3 300.5 1014.5C312.1 1014.6 323.8 1015.3 335.4 1015.2C347.0 1015.1 358.6 1014.0 370.2 1013.8C381.8 1013.5 399.2 1013.8 405.0 1013.8" stroke="#d19451" stroke-width="0.7" fill="none" opacity=".8" stroke-linecap="round"/>
<path d="M160.3 1018.1C164.1 1018.3 175.4 1018.8 182.9 1018.9C190.4 1019.0 197.9 1018.8 205.5 1018.7C213.0 1018.6 220.5 1018.4 228.0 1018.3C235.6 1018.1 246.9 1017.8 250.6 1017.8" stroke="#cc8b44" stroke-width="0.7" fill="none" opacity=".8" stroke-linecap="round"/>
<path d="M209.9 1026.7C214.7 1027.0 229.3 1028.2 239.0 1028.4C248.7 1028.5 258.4 1027.7 268.1 1027.4C277.8 1027.1 287.5 1027.0 297.2 1026.8C306.9 1026.6 321.5 1026.4 326.4 1026.3" stroke="#cc8b44" stroke-width="1.1" fill="none" opacity=".8" stroke-linecap="round"/>
<path d="M242.3 1035.4C247.4 1035.4 262.7 1035.3 272.8 1035.4C283.0 1035.5 293.2 1036.1 303.4 1036.1C313.6 1036.1 323.8 1035.8 333.9 1035.6C344.1 1035.4 359.4 1035.1 364.5 1035.0" stroke="#d19451" stroke-width="0.7" fill="none" opacity=".8" stroke-linecap="round"/>
<path d="M249.7 1044.8C256.1 1044.7 275.6 1043.8 288.5 1044.0C301.5 1044.2 314.4 1046.0 327.4 1046.0C340.3 1046.0 353.3 1044.3 366.3 1044.0C379.2 1043.7 398.6 1044.2 405.1 1044.2" stroke="#c6843c" stroke-width="1.0" fill="none" opacity=".8" stroke-linecap="round"/>
<path d="M384 1019.5C404 1017.5 432 1019 447.5 1024.5C432 1030 404 1031.5 384 1029.5" stroke="#c27e36" stroke-width="1" fill="none" opacity=".9"/>
<path d="M322 1010C370 1005.5 430 1008 469 1016.5M332 1040.5C380 1044 432 1041.5 470 1034" stroke="#c27e36" stroke-width="1.1" fill="none" opacity=".9"/>
<path d="M145.4 998.4L147.6 1053.4L473.6 1052.3" fill="none" stroke="#1c1715" stroke-width="1.5" stroke-linejoin="round"/>
<path d="M147.6 1053.4L142.9 1058.7" fill="none" stroke="#1c1715" stroke-width="1.5"/>
<polygon points="137.9,1006.5 144.9,997.7 469.8,996.9 474.0,1052.0 467.5,1059.5 141.9,1059.7" fill="none" stroke="#1c1715" stroke-width="2.3" stroke-linejoin="round"/>
<line x1="214.7" y1="1017.0" x2="214.7" y2="1033.0" stroke="#7cc142" stroke-width="1.1" opacity=".9"/>
<line x1="279.1" y1="1024.0" x2="279.1" y2="1046.0" stroke="#7cc142" stroke-width="1.1" opacity=".9"/>
<line x1="352.8" y1="1020.0" x2="352.8" y2="1040.0" stroke="#7cc142" stroke-width="1.1" opacity=".9"/>
<text x="162.4 176.6 189.1 203.4 216.1 229.8 242.2 255.3 267.6 279.0 292.4 304.2 316.8 328.2 340.3 355.2 366.9 379.8 387.4 401.8" y="1026.0 1027.5 1028.9 1030.2 1031.3 1032.6 1034.8 1037.4 1039.1 1040.8 1042.3 1042.8 1042.5 1041.6 1040.2 1037.6 1035.0 1032.2 1030.6 1027.3" rotate="5.7 5.8 5.7 5.7 6.5 8.1 9.3 9.1 7.6 5.6 2.8 -0.6 -3.9 -6.7 -9.1 -11.0 -12.1 -12.5 -12.7 -12.9">SPURSPORTSPATENSPION</text>
</g>
<g id="brett3">
<polygon points="517.8,1004.9 525.5,996.0 892.0,994.4 898.0,1050.5 889.5,1058.2 522.0,1058.4" fill="#e9b06b"/>
<polygon points="517.8,1004.9 526.0,996.8 529.0,1052.2 522.0,1058.4" fill="#f1c083"/>
<polygon points="529.0,1052.2 897.6,1050.8 889.5,1058.2 522.0,1058.4" fill="#edb775"/>
<path d="M568.6 999.9C575.3 999.7 595.4 998.8 608.8 998.9C622.2 998.9 635.6 1000.2 649.0 1000.1C662.4 999.9 675.8 998.3 689.2 998.1C702.7 997.9 716.1 998.8 729.5 998.8C742.9 998.9 763.0 998.6 769.7 998.6" stroke="#f5cd95" stroke-width="3.2" fill="none" opacity=".8" stroke-linecap="round"/>
<path d="M533.9 1005.1C541.4 1005.1 564.2 1005.3 579.4 1005.0C594.6 1004.8 609.8 1003.8 625.0 1003.6C640.2 1003.4 655.3 1003.9 670.5 1004.0C685.7 1004.1 700.9 1004.4 716.1 1004.4C731.3 1004.3 754.0 1003.8 761.6 1003.7" stroke="#f5cd95" stroke-width="2.4" fill="none" opacity=".8" stroke-linecap="round"/>
<path d="M593.2 1010.8C598.9 1010.7 615.9 1010.3 627.2 1010.1C638.5 1009.9 649.8 1009.6 661.1 1009.6C672.4 1009.7 683.8 1010.0 695.1 1010.2C706.4 1010.4 717.7 1010.9 729.0 1010.9C740.3 1010.8 757.3 1010.0 763.0 1009.8" stroke="#f5cd95" stroke-width="2.7" fill="none" opacity=".8" stroke-linecap="round"/>
<path d="M598.1 1016.9C604.9 1016.9 625.2 1017.4 638.8 1017.2C652.3 1017.0 665.8 1015.9 679.4 1015.7C692.9 1015.4 706.5 1015.7 720.0 1015.8C733.5 1015.9 747.1 1016.4 760.6 1016.4C774.2 1016.3 794.5 1015.9 801.2 1015.8" stroke="#f5cd95" stroke-width="2.9" fill="none" opacity=".8" stroke-linecap="round"/>
<path d="M566.2 1024.3C571.6 1024.2 587.5 1023.8 598.2 1023.7C608.8 1023.5 619.5 1023.4 630.2 1023.4C640.8 1023.3 651.5 1023.2 662.1 1023.4C672.8 1023.5 683.4 1024.2 694.1 1024.3C704.7 1024.3 720.7 1023.6 726.0 1023.5" stroke="#f5cd95" stroke-width="2.0" fill="none" opacity=".8" stroke-linecap="round"/>
<path d="M609.4 1031.9C618.6 1031.7 646.2 1030.8 664.7 1030.7C683.1 1030.6 701.5 1031.0 720.0 1031.1C738.4 1031.2 756.8 1031.3 775.2 1031.1C793.7 1030.8 812.1 1029.9 830.5 1029.9C848.9 1029.8 876.6 1030.4 885.8 1030.5" stroke="#f5cd95" stroke-width="2.4" fill="none" opacity=".8" stroke-linecap="round"/>
<path d="M611.6 1037.4C617.0 1037.4 633.4 1037.6 644.3 1037.5C655.2 1037.3 666.1 1036.4 677.1 1036.4C688.0 1036.3 698.9 1036.9 709.8 1037.1C720.7 1037.3 731.6 1037.7 742.5 1037.6C753.4 1037.5 769.8 1036.8 775.3 1036.7" stroke="#f5cd95" stroke-width="2.0" fill="none" opacity=".8" stroke-linecap="round"/>
<path d="M529.2 1042.8C534.6 1042.8 550.5 1042.9 561.2 1042.7C571.8 1042.5 582.4 1041.7 593.1 1041.5C603.7 1041.3 614.3 1041.4 625.0 1041.5C635.6 1041.7 646.3 1042.1 656.9 1042.2C667.5 1042.3 683.5 1042.1 688.8 1042.1" stroke="#f5cd95" stroke-width="3.3" fill="none" opacity=".8" stroke-linecap="round"/>
<path d="M567.5 1048.7C574.4 1048.7 595.0 1049.0 608.7 1048.8C622.5 1048.6 636.2 1047.7 649.9 1047.6C663.7 1047.5 677.4 1048.4 691.1 1048.4C704.9 1048.4 718.6 1047.5 732.4 1047.4C746.1 1047.3 766.7 1047.8 773.6 1047.9" stroke="#f5cd95" stroke-width="2.7" fill="none" opacity=".8" stroke-linecap="round"/>
<path d="M540.3 1002.3C548.1 1002.3 571.6 1002.4 587.2 1002.5C602.8 1002.6 618.4 1002.8 634.0 1002.7C649.6 1002.7 665.2 1002.3 680.9 1002.1C696.5 1001.9 712.1 1002.0 727.7 1001.8C743.3 1001.6 758.9 1001.5 774.5 1001.0C790.1 1000.6 805.8 999.2 821.4 999.1C837.0 999.0 860.4 1000.0 868.2 1000.2" stroke="#b97530" stroke-width="1.4" fill="none" opacity=".9" stroke-linecap="round"/>
<path d="M532.5 1008.4C541.0 1008.4 566.5 1008.8 583.5 1008.4C600.4 1008.1 617.4 1006.6 634.4 1006.4C651.4 1006.2 668.4 1006.9 685.3 1007.1C702.3 1007.3 719.3 1007.7 736.3 1007.7C753.3 1007.7 770.2 1007.2 787.2 1007.1C804.2 1007.1 821.2 1007.5 838.2 1007.4C855.1 1007.2 880.6 1006.5 889.1 1006.3" stroke="#c07c34" stroke-width="1.0" fill="none" opacity=".9" stroke-linecap="round"/>
<path d="M532.4 1021.1C540.9 1021.0 566.4 1020.7 583.4 1020.5C600.4 1020.2 617.4 1019.9 634.4 1019.7C651.4 1019.6 668.4 1019.2 685.4 1019.4C702.4 1019.7 719.4 1021.2 736.4 1021.4C753.4 1021.6 770.4 1020.9 787.4 1020.5C804.4 1020.1 821.4 1019.4 838.4 1019.2C855.4 1018.9 880.9 1019.2 889.4 1019.2" stroke="#b97530" stroke-width="1.3" fill="none" opacity=".9" stroke-linecap="round"/>
<path d="M527.8 1030.0C536.0 1030.0 560.6 1029.8 577.0 1029.6C593.4 1029.5 609.8 1029.3 626.2 1029.0C642.6 1028.8 659.0 1028.0 675.4 1028.1C691.9 1028.2 708.3 1029.5 724.7 1029.5C741.1 1029.4 757.5 1027.6 773.9 1027.6C790.3 1027.6 806.7 1029.3 823.1 1029.4C839.5 1029.6 864.1 1028.5 872.3 1028.4" stroke="#c07c34" stroke-width="0.9" fill="none" opacity=".9" stroke-linecap="round"/>
<path d="M539.8 1040.0C548.2 1039.8 573.2 1039.2 589.8 1039.3C606.5 1039.3 623.2 1040.3 639.9 1040.4C656.5 1040.4 673.2 1039.9 689.9 1039.5C706.5 1039.1 723.2 1037.8 739.9 1037.8C756.6 1037.7 773.2 1039.4 789.9 1039.3C806.6 1039.2 823.2 1037.6 839.9 1037.4C856.6 1037.3 881.6 1038.3 889.9 1038.4" stroke="#c6843c" stroke-width="1.4" fill="none" opacity=".9" stroke-linecap="round"/>
<path d="M536.2 1046.6C544.7 1046.5 570.3 1046.0 587.3 1046.0C604.4 1046.0 621.4 1046.9 638.5 1046.7C655.5 1046.5 672.6 1045.0 689.6 1045.0C706.7 1045.0 723.7 1046.9 740.7 1046.8C757.8 1046.8 774.8 1045.3 791.9 1044.9C808.9 1044.4 826.0 1044.0 843.0 1044.0C860.1 1044.1 885.6 1045.0 894.1 1045.2" stroke="#b97530" stroke-width="1.5" fill="none" opacity=".9" stroke-linecap="round"/>
<path d="M564.2 1005.4C571.6 1005.5 593.9 1005.9 608.8 1005.5C623.6 1005.2 638.5 1003.5 653.3 1003.1C668.2 1002.7 683.1 1002.8 697.9 1003.0C712.8 1003.2 735.1 1004.1 742.5 1004.3" stroke="#cc8b44" stroke-width="0.8" fill="none" opacity=".8" stroke-linecap="round"/>
<path d="M602.7 1013.0C608.9 1012.8 627.3 1012.1 639.6 1012.0C652.0 1011.9 664.3 1012.6 676.6 1012.5C688.9 1012.4 701.2 1011.6 713.5 1011.6C725.8 1011.5 744.3 1012.0 750.5 1012.1" stroke="#d19451" stroke-width="1.2" fill="none" opacity=".8" stroke-linecap="round"/>
<path d="M666.1 1016.0C671.0 1015.7 685.9 1014.3 695.8 1014.2C705.7 1014.2 715.6 1015.1 725.5 1015.5C735.4 1015.8 745.3 1016.2 755.2 1016.2C765.1 1016.2 780.0 1015.5 785.0 1015.3" stroke="#cc8b44" stroke-width="1.1" fill="none" opacity=".8" stroke-linecap="round"/>
<path d="M602.4 1025.2C609.7 1025.3 631.3 1025.8 645.8 1025.6C660.2 1025.4 674.7 1024.1 689.1 1024.0C703.5 1023.9 718.0 1024.8 732.4 1024.9C746.9 1025.0 768.5 1024.4 775.8 1024.3" stroke="#cc8b44" stroke-width="1.0" fill="none" opacity=".8" stroke-linecap="round"/>
<path d="M597.0 1034.1C604.3 1034.1 626.5 1034.3 641.2 1034.0C655.9 1033.8 670.7 1032.6 685.4 1032.6C700.1 1032.6 714.9 1033.9 729.6 1034.0C744.3 1034.1 766.4 1033.4 773.8 1033.3" stroke="#d19451" stroke-width="0.7" fill="none" opacity=".8" stroke-linecap="round"/>
<path d="M673.8 1043.3C678.5 1043.1 692.6 1042.1 701.9 1042.1C711.3 1042.0 720.7 1042.8 730.1 1042.9C739.4 1043.1 748.8 1043.3 758.2 1043.3C767.6 1043.2 781.6 1042.9 786.3 1042.8" stroke="#cc8b44" stroke-width="1.0" fill="none" opacity=".8" stroke-linecap="round"/>
<path d="M526.0 996.8L529.0 1052.2L897.6 1050.8" fill="none" stroke="#1c1715" stroke-width="1.5" stroke-linejoin="round"/>
<path d="M529.0 1052.2L523.0 1057.4" fill="none" stroke="#1c1715" stroke-width="1.5"/>
<polygon points="517.8,1004.9 525.5,996.0 892.0,994.4 898.0,1050.5 889.5,1058.2 522.0,1058.4" fill="none" stroke="#1c1715" stroke-width="2.3" stroke-linejoin="round"/>
<line x1="615.3" y1="1020.0" x2="615.3" y2="1040.0" stroke="#7cc142" stroke-width="1.1" opacity=".9"/>
<line x1="685.8" y1="1024.0" x2="685.8" y2="1046.0" stroke="#7cc142" stroke-width="1.1" opacity=".9"/>
<line x1="777.3" y1="1000.0" x2="777.3" y2="1023.0" stroke="#7cc142" stroke-width="1.1" opacity=".9"/>
<text x="536.9 550.9 565.2 578.6 590.2 602.8 615.8 631.4 644.9 658.5 672.5 686.2 700.7 716.7 728.6 739.6 750.8 764.8 779.8 794.1 809.4 822.6 834.7 847.5" y="1018.2 1021.6 1024.9 1028.3 1031.3 1034.0 1036.2 1038.0 1039.2 1039.7 1039.8 1039.4 1038.4 1036.1 1032.6 1029.0 1025.9 1023.3 1021.3 1020.1 1019.9 1020.7 1022.2 1024.3" rotate="13.6 13.6 13.6 13.3 12.0 9.8 7.3 5.0 2.7 0.4 -1.9 -4.6 -8.4 -12.5 -15.0 -14.5 -11.6 -8.1 -4.7 -1.3 2.3 5.6 8.0 9.6">QUALLEQUARKQUATSCHQUELLE</text>
</g>
</svg>
<h2 class="h" style="left:89.4px;top:1107.0px;letter-spacing:-0.058px">Seite 50</h2>
<p class="t" style="left:90.9px;top:1132.0px;letter-spacing:-0.216px">1. ie: Wiese, Biene, Schiene, vier, fliegen, Fliege</p>
<p class="t" style="left:90.9px;top:1157.0px;letter-spacing:-0.122px">ei: kein, Weise, Brei, fein, klein, Bein</p>
</main>
</body>
</html>
